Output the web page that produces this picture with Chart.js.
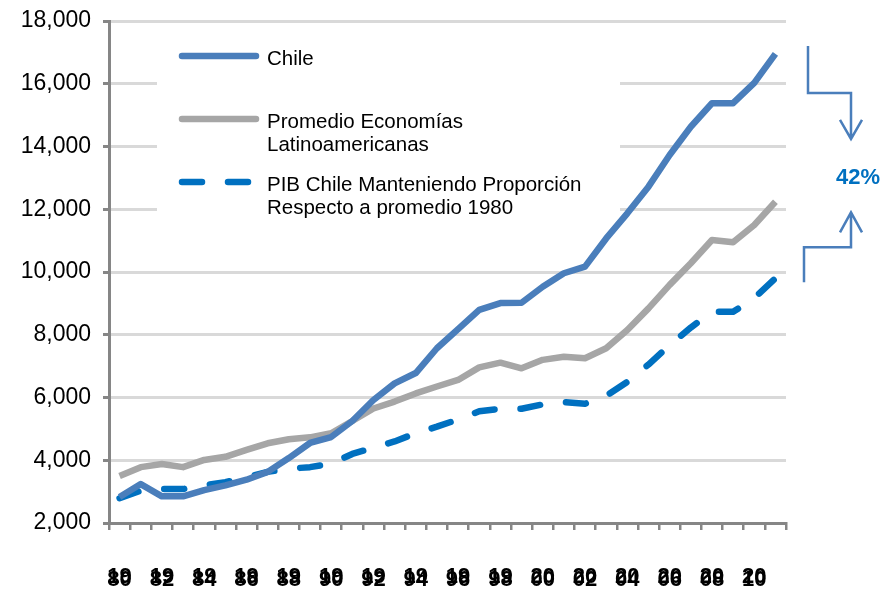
<!DOCTYPE html>
<html>
<head>
<meta charset="utf-8">
<script src="https://cdn.jsdelivr.net/npm/chart.js@4.4.0/dist/chart.umd.min.js"></script>
<style>
  html, body { margin: 0; padding: 0; background: #fff; }
</style>
</head>
<body>
<canvas id="grafico" width="894" height="594"></canvas>
<script>
// años 1980 - 2011
const anios = ['1980','1981','1982','1983','1984','1985','1986','1987','1988','1989',
               '1990','1991','1992','1993','1994','1995','1996','1997','1998','1999',
               '2000','2001','2002','2003','2004','2005','2006','2007','2008','2009',
               '2010','2011'];

const chile = [2830, 3240, 2850, 2850, 3050, 3200, 3380, 3630, 4070, 4550,
               4740, 5250, 5920, 6450, 6780, 7570, 8180, 8790, 9010, 9020,
               9530, 9960, 10170, 11070, 11870, 12720, 13730, 14630, 15380, 15380,
               16030, 16950];

const promedioLatam = [3500, 3780, 3880, 3780, 4010, 4110, 4330, 4540, 4670, 4730,
                       4860, 5250, 5650, 5870, 6130, 6350, 6560, 6960, 7110, 6930,
                       7200, 7300, 7250, 7570, 8150, 8840, 9590, 10280, 11020, 10950,
                       11500, 12240];

const pibProporcion = [2790, 3030, 3080, 3080, 3200, 3300, 3460, 3630, 3730, 3780,
                       3890, 4200, 4400, 4600, 4860, 5070, 5300, 5560, 5640, 5640,
                       5780, 5850, 5800, 6050, 6500, 7050, 7670, 8230, 8730, 8730,
                       9170, 9800];

const yMin = 2000, yMax = 18000, yPaso = 2000;

const nombres = [['Chile'],
                 ['Promedio Economías', 'Latinoamericanas'],
                 ['PIB Chile Manteniendo Proporción', 'Respecto a promedio 1980']];
const brecha = '42%';

const fuente = '"Liberation Sans", Arial, sans-serif';

// cuadro de leyenda blanco encima de la grilla
const leyenda = {
    id: 'leyenda',
    beforeDatasetsDraw(chart) {
        const ctx = chart.ctx, a = chart.chartArea;
        ctx.save();
        ctx.fillStyle = '#fff';
        ctx.fillRect(a.left + 48, a.top + 9, 463, 212);

        const filas = [a.top + 35, a.top + 98, a.top + 161];
        chart.data.datasets.forEach((ds, i) => {
            const y = filas[i];
            ctx.beginPath();
            ctx.lineWidth = 6.5;
            ctx.lineCap = 'round';
            ctx.strokeStyle = ds.borderColor;
            ctx.setLineDash(ds.borderDash || []);
            ctx.moveTo(a.left + 73, y);
            ctx.lineTo(a.left + 147, y);
            ctx.stroke();
            ctx.setLineDash([]);
            ctx.fillStyle = '#000';
            ctx.font = '20.5px ' + fuente;
            ctx.textBaseline = 'alphabetic';
            nombres[i].forEach((t, k) => ctx.fillText(t, a.left + 158, y + 9 + k * 22.5));
        });
        ctx.restore();
    }
};

// flechas y porcentaje a la derecha
const flechas = {
    id: 'flechas',
    afterDraw(chart) {
        const ctx = chart.ctx, a = chart.chartArea, ys = chart.scales.y;
        const arriba = ys.getPixelForValue(chile[chile.length - 1]) - 8;
        const abajo = ys.getPixelForValue(pibProporcion[pibProporcion.length - 1]) + 4;
        const x1 = a.right + 22, x2 = a.right + 65;
        ctx.save();
        ctx.strokeStyle = '#4a7ebb';
        ctx.lineWidth = 2.5;
        ctx.beginPath();
        ctx.moveTo(x1, arriba);
        ctx.lineTo(x1, arriba + 47);
        ctx.lineTo(x2, arriba + 47);
        ctx.lineTo(x2, arriba + 93);
        ctx.moveTo(x2 - 11, arriba + 74);
        ctx.lineTo(x2, arriba + 93);
        ctx.lineTo(x2 + 11, arriba + 74);
        ctx.stroke();

        ctx.beginPath();
        ctx.moveTo(x1 - 4, abajo);
        ctx.lineTo(x1 - 4, abajo - 35);
        ctx.lineTo(x2, abajo - 35);
        ctx.lineTo(x2, abajo - 70);
        ctx.moveTo(x2 - 11, abajo - 50);
        ctx.lineTo(x2, abajo - 70);
        ctx.lineTo(x2 + 11, abajo - 50);
        ctx.stroke();

        ctx.fillStyle = '#0070c0';
        ctx.font = 'bold 22px ' + fuente;
        ctx.textAlign = 'center';
        ctx.textBaseline = 'middle';
        ctx.fillText(brecha, x2 + 7, arriba + 132);
        ctx.restore();
    }
};

new Chart(document.getElementById('grafico'), {
    type: 'line',
    data: {
        labels: anios,
        datasets: [{
            label: nombres[0].join(' '),
            data: chile,
            borderColor: '#4a7ebb',
            borderWidth: 6.5
        }, {
            label: nombres[1].join(' '),
            data: promedioLatam,
            borderColor: '#a6a6a6',
            borderWidth: 6.5
        }, {
            label: nombres[2].join(' '),
            data: pibProporcion,
            borderColor: '#0070c0',
            borderWidth: 6.5,
            borderDash: [20, 26],
            borderCapStyle: 'round'
        }]
    },
    options: {
        responsive: false,
        animation: false,
        devicePixelRatio: 1,
        layout: { padding: { top: 21, right: 108, left: 0, bottom: 0 } },
        elements: {
            point: { radius: 0 },
            line: { tension: 0, borderJoinStyle: 'round', fill: false }
        },
        plugins: {
            legend: { display: false },
            tooltip: { enabled: false }
        },
        scales: {
            x: {
                offset: true,
                grid: {
                    offset: true,
                    drawOnChartArea: false,
                    tickLength: 7,
                    tickColor: '#868686',
                    lineWidth: 2.5
                },
                border: { color: '#868686', width: 3 },
                ticks: {
                    autoSkip: false,
                    maxRotation: 0,
                    minRotation: 0,
                    padding: 45,
                    color: '#000',
                    font: { family: fuente, size: 22, weight: 'bold', lineHeight: 0.15 },
                    callback: (v, i) => i % 2 === 0 ? [anios[i].slice(0, 2), anios[i].slice(2)] : ''
                },
                afterFit(s) { s.height = 71; }
            },
            y: {
                min: yMin,
                max: yMax,
                ticks: {
                    stepSize: yPaso,
                    padding: 12,
                    color: '#000',
                    font: { family: fuente, size: 23, lineHeight: 0.6 },
                    callback: v => v.toLocaleString('en-US')
                },
                grid: {
                    color: '#d9d9d9',
                    lineWidth: 3,
                    tickColor: '#868686',
                    tickLength: 6
                },
                border: { color: '#868686', width: 3 },
                afterFit(s) { s.width = 109; }
            }
        }
    },
    plugins: [leyenda, flechas]
});
</script>
</body>
</html>
